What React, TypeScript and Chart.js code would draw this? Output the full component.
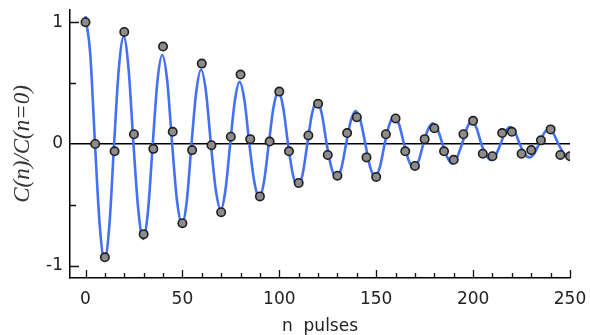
import { useEffect, useRef } from 'react';
import { Chart, registerables } from 'chart.js';

Chart.register(...registerables);

// measured points: pulse number n and normalised C(n)/C(n=0)
const pulseN = [0, 5, 10, 15, 20, 25, 30, 35, 40, 45, 50, 55, 60, 65, 70, 75, 80, 85, 90, 95, 100, 105, 110, 115, 120, 125, 130, 135, 140, 145, 150, 155, 160, 165, 170, 175, 180, 185, 190, 195, 200, 205, 210, 215, 220, 225, 230, 235, 240, 245, 250];
const pulseC = [1.0, 0.0, -0.93, -0.06, 0.92, 0.08, -0.74, -0.04, 0.8, 0.1, -0.65, -0.05, 0.66, -0.01, -0.56, 0.06, 0.57, 0.04, -0.43, 0.02, 0.43, -0.06, -0.32, 0.07, 0.33, -0.09, -0.26, 0.09, 0.22, -0.11, -0.27, 0.08, 0.21, -0.06, -0.18, 0.04, 0.13, -0.06, -0.13, 0.08, 0.19, -0.08, -0.1, 0.09, 0.1, -0.08, -0.05, 0.03, 0.12, -0.09, -0.1];

// blue fitted curve
const curveN = [0, 2.45, 4.9, 7.35, 9.8, 12.3, 14.75, 17.2, 19.7, 22.2, 24.75, 27.3, 29.8, 32.25, 34.7, 37.15, 39.6, 42.15, 44.7, 47.25, 49.8, 52.25, 54.7, 57.15, 59.6, 62.15, 64.7, 67.25, 69.8, 72.2, 74.65, 77.1, 79.5, 82.0, 84.55, 87.1, 89.6, 92.1, 94.55, 97.0, 99.5, 102.0, 104.5, 107.0, 109.5, 112.0, 114.45, 116.9, 119.4, 121.9, 124.45, 127.0, 129.5, 132.0, 134.45, 136.9, 139.4, 141.9, 144.4, 146.9, 149.4, 151.9, 154.35, 156.8, 159.3, 161.8, 164.35, 166.9, 169.4, 171.85, 174.3, 176.75, 179.2, 181.7, 184.2, 186.7, 189.2, 191.7, 194.25, 196.8, 199.3, 201.8, 204.25, 206.7, 209.2, 211.7, 214.15, 216.6, 219.1, 221.6, 224.05, 226.5, 229.0, 231.5, 234.0, 236.5, 239.0, 241.5, 244.0, 246.5, 249.0, 250];
const curveC = [1.05, 0.74, 0, -0.67, -0.95, -0.67, 0, 0.62, 0.88, 0.62, 0, -0.55, -0.78, -0.55, 0, 0.52, 0.73, 0.52, 0, -0.47, -0.66, -0.47, 0, 0.43, 0.61, 0.43, 0, -0.38, -0.54, -0.38, 0, 0.36, 0.51, 0.36, 0, -0.31, -0.44, -0.31, 0, 0.3, 0.43, 0.3, 0, -0.25, -0.35, -0.25, 0, 0.25, 0.35, 0.25, 0, -0.2, -0.28, -0.2, 0, 0.19, 0.27, 0.19, 0, -0.19, -0.27, -0.19, 0, 0.16, 0.23, 0.16, 0, -0.14, -0.2, -0.14, 0, 0.12, 0.17, 0.12, 0, -0.11, -0.16, -0.11, 0, 0.13, 0.19, 0.13, 0, -0.09, -0.13, -0.09, 0, 0.1, 0.14, 0.1, 0, -0.08, -0.11, -0.08, 0, 0.085, 0.12, 0.085, 0, -0.07, -0.1, -0.1];

const xLabelTicks = [0, 50, 100, 150, 200, 250];
const xTickMarks = [0, 10, 20, 30, 40, 50, 60, 70, 80, 90, 100, 110, 120, 130, 140, 150, 160, 170, 180, 190, 200, 210, 220, 230, 240, 250];
const yLabelTicks = [-1, 0, 1];
const yTickMarks = [-1, -0.5, 0.5, 1];

const inwardTicks = {
  id: 'inwardTicks',
  beforeDatasetsDraw(chart: any) {
    const { ctx, chartArea, scales } = chart;
    ctx.save();
    ctx.strokeStyle = '#111';
    ctx.lineWidth = 1.3;
    ctx.beginPath();
    for (const v of xTickMarks) {
      const px = Math.round(scales.x.getPixelForValue(v)) + 0.5;
      const len = v % 50 === 0 ? 8 : 5;
      ctx.moveTo(px, chartArea.bottom);
      ctx.lineTo(px, chartArea.bottom - len);
    }
    for (const v of yTickMarks) {
      const py = Math.round(scales.y.getPixelForValue(v)) + 0.5;
      const len = Number.isInteger(v) ? 9 : 6;
      ctx.moveTo(chartArea.left, py);
      ctx.lineTo(chartArea.left + len, py);
    }
    ctx.stroke();
    ctx.restore();
  },
};

export default function App() {
  const ref = useRef<HTMLCanvasElement | null>(null);

  useEffect(() => {
    if (!ref.current) return;
    const tickFont = { family: '"DejaVu Sans", sans-serif', size: 17 };
    const chart = new Chart(ref.current, {
      type: 'scatter',
      data: {
        datasets: [
          {
            label: 'measured',
            data: pulseN.map((n, i) => ({ x: n, y: pulseC[i] })),
            pointRadius: 4.2,
            pointBackgroundColor: '#8c8c8c',
            pointBorderColor: '#1e1e1e',
            pointBorderWidth: 1.6,
            showLine: false,
            order: 0,
          },
          {
            label: 'fit',
            data: curveN.map((n, i) => ({ x: n, y: curveC[i] })),
            showLine: true,
            pointRadius: 0,
            borderColor: 'rgb(68,112,245)',
            borderWidth: 2.6,
            cubicInterpolationMode: 'monotone',
            order: 1,
          } as any,
        ],
      },
      options: {
        responsive: false,
        animation: false,
        layout: { padding: { top: 10, right: 20, left: 0, bottom: 0 } },
        plugins: { legend: { display: false }, tooltip: { enabled: false } },
        scales: {
          x: {
            type: 'linear',
            min: -8,
            max: 250,
            afterBuildTicks: (s: any) => {
              s.ticks = xLabelTicks.map((value) => ({ value }));
            },
            afterFit: (s: any) => {
              s.height = 57;
              s.paddingLeft = 0;
              s.paddingRight = 0;
            },
            grid: { display: false, drawTicks: false },
            border: { display: true, color: '#000', width: 1.5 },
            ticks: { font: tickFont, color: '#222', padding: 11, maxRotation: 0 },
            title: {
              display: true,
              text: 'n  pulses',
              font: { family: '"DejaVu Sans", sans-serif', size: 17, lineHeight: 1 },
              color: '#222',
              padding: 0,
            },
          },
          y: {
            type: 'linear',
            min: -1.1,
            max: 1.1,
            afterBuildTicks: (s: any) => {
              s.ticks = yLabelTicks.map((value) => ({ value }));
            },
            afterFit: (s: any) => {
              s.width = 70;
              s.paddingTop = 0;
              s.paddingBottom = 0;
            },
            grid: {
              drawTicks: false,
              color: (c: any) => (c.tick && c.tick.value === 0 ? '#000' : 'rgba(0,0,0,0)'),
              lineWidth: 1.6,
            },
            border: { display: true, color: '#000', width: 1.5 },
            ticks: { font: tickFont, color: '#222', padding: 7 },
            title: {
              display: true,
              text: 'C(n)/C(n=0)',
              font: { family: '"Liberation Serif", serif', size: 23, style: 'italic', lineHeight: 1.2 },
              color: '#333',
              padding: { top: 9, bottom: 0 },
            },
          },
        },
      },
      plugins: [inwardTicks],
    });
    return () => chart.destroy();
  }, []);

  return (
    <div style={{ position: 'fixed', left: 0, top: 0, width: 590, height: 335, background: '#fff' }}>
      <canvas ref={ref} width={590} height={335} />
    </div>
  );
}
